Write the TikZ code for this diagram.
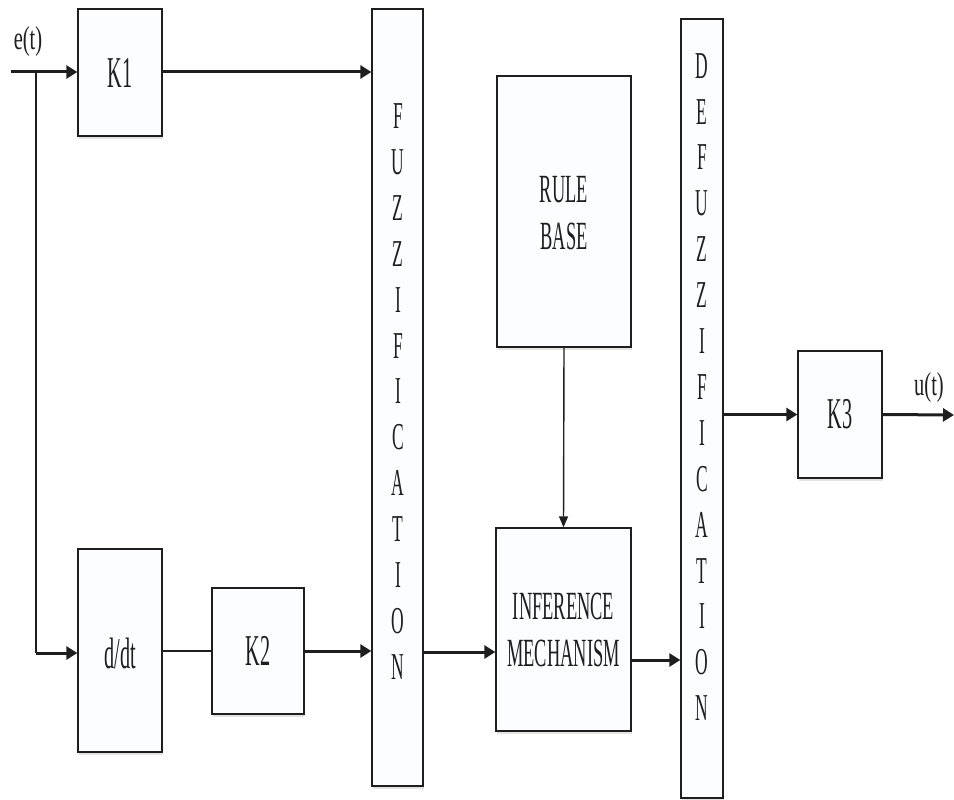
\documentclass[tikz,border=0pt]{standalone}
\usepackage{fontspec}
\setmainfont{Liberation Serif}[FakeStretch=0.46]
\newfontfamily\sigfont{Liberation Serif}[FakeStretch=0.62]
\usetikzlibrary{arrows.meta,shadows}
\definecolor{ink}{HTML}{1E1E1E}
\definecolor{boxfill}{HTML}{FCFDFE}
\tikzset{
  blk/.style={draw=ink, line width=1.3pt, fill=boxfill, inner sep=0pt,
    drop shadow={shadow xshift=1pt, shadow yshift=-3pt, fill=black!18, opacity=0.6}},
  lbl/.style={text=ink, font=\fontsize{40}{47}\selectfont, align=center, inner sep=0pt},
  klbl/.style={text=ink, font=\fontsize{44}{46}\selectfont, inner sep=0pt},
  vword/.style={text=ink, font=\fontsize{38}{45.9}\selectfont, align=center, inner sep=0pt},
  siglbl/.style={text=ink, font=\sigfont\fontsize{33}{40}\selectfont, inner sep=0pt},
  thickarrow/.style={draw=ink, line width=3pt, -{Triangle[length=11pt,width=13pt]}},
  thinarrow/.style={draw=ink, line width=1.4pt, -{Triangle[length=11pt,width=9pt]}},
  plainline/.style={draw=ink, line width=1.6pt},
  midline/.style={draw=ink, line width=2.2pt},
}
\begin{document}
\begin{tikzpicture}[x=1pt,y=-1pt]
\useasboundingbox (0,0) rectangle (954,800);
% boxes
\node[blk, minimum width=84pt, minimum height=127pt] (K1) at (120,72.5) {};
\node[klbl] at (K1) {K1};
\node[blk, minimum width=84pt, minimum height=203pt] (ddt) at (120,650.5) {};
\node[klbl] at (120,653) {d/dt};
\node[blk, minimum width=92pt, minimum height=126pt] (K2) at (258,651) {};
\node[klbl] at (K2) {K2};
\node[blk, minimum width=51pt, minimum height=777pt] (fuzz) at (397.5,397.5) {};
\node[vword] (fuzzt) at (398,391.5) {F\\U\\Z\\Z\\I\\F\\I\\C\\A\\T\\I\\O\\N};
\node[blk, minimum width=134pt, minimum height=271pt] (rule) at (564,211.5) {};
\node[lbl] (rulet) at (564,213.5) {RULE\\BASE};
\node[blk, minimum width=135pt, minimum height=203pt] (inf) at (563.5,629.5) {};
\node[lbl] (inft) at (563.5,630) {INFERENCE\\MECHANISM};
\node[blk, minimum width=42pt, minimum height=779pt] (defuzz) at (702,408.5) {};
\node[vword] (defuzzt) at (702,387) {D\\E\\F\\U\\Z\\Z\\I\\F\\I\\C\\A\\T\\I\\O\\N};
\node[blk, minimum width=84pt, minimum height=127pt] (K3) at (840,414.5) {};
\node[klbl] at (K3) {K3};
% labels
\node[siglbl] (et) at (28,42) {e(t)};
\node[siglbl] (ut) at (929,388) {u(t)};
% coordinates
\coordinate (in) at (11,72);
\coordinate (split) at (36,72);
\coordinate (out) at (954,415);
% connectors
\draw[thickarrow] (in) -- (K1.west |- in);
\draw[thickarrow] (K1.east |- in) -- (fuzz.west |- in);
\draw[plainline] (split) -- (36,653) coordinate (bend);
\draw[thickarrow] (bend) -- (ddt.west |- bend);
\draw[midline] (ddt.east |- K2) -- (K2.west);
\draw[thickarrow] (K2.east) -- (fuzz.west |- K2.east);
\draw[thickarrow] (fuzz.east |- 0,652) -- (inf.west |- 0,652);
\draw[thinarrow] (rule.south) -- (inf.north);
\draw[thickarrow] (inf.east |- 0,660) -- (defuzz.west |- 0,660);
\draw[thickarrow] (defuzz.east |- K3) -- (K3.west);
\draw[thickarrow] (K3.east) -- (out);
\end{tikzpicture}
\end{document}
